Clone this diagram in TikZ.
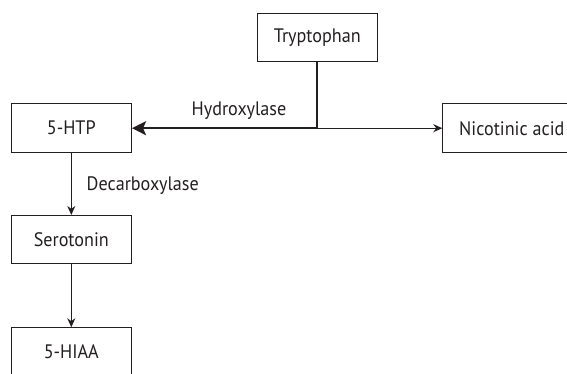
\documentclass[tikz,border=0pt]{standalone}
\usepackage{fontspec}
\setmainfont[FakeStretch=0.93]{PT Sans}
\usetikzlibrary{arrows.meta}
\definecolor{ink}{HTML}{231F20}
\begin{document}
\begin{tikzpicture}[x=1pt,y=1pt,
  box/.style={draw=ink,line width=1pt,minimum width=119.5pt,minimum height=48.5pt,inner sep=0pt,font=\fontsize{19.5}{23}\selectfont,text=ink},
  lbl/.style={font=\fontsize{19.5}{23}\selectfont,text=ink,inner sep=0pt},
  thin/.style={draw=ink,line width=1pt,-{Stealth[length=9pt,width=8pt]}},
  thick/.style={draw=ink,line width=2.2pt}]
\useasboundingbox (0,0) rectangle (567,-373);
\node[box] (tryp) at (317.3,-37.5) {Tryptophan};
\node[box] (htp) at (71.3,-128.2) {5-HTP};
\node[box,minimum width=138pt,anchor=west] (nic) at (442.3,-128.2) {Nicotinic acid};
\node[box] (ser) at (71.3,-239.7) {Serotonin};
\node[box] (hiaa) at (71.3,-352) {5-HIAA};
\coordinate (j) at (tryp.south |- htp.east);
\draw[thick] (tryp.south) -- (j);
\draw[thick,-{Stealth[length=14pt,width=14pt,inset=3pt]},shorten >=0.5pt] (j) -- (htp.east);
\draw[thin] (j) -- (nic.west);
\draw[thin] (htp.south) -- (ser.north);
\draw[thin] (ser.south) -- (hiaa.north);
\node[lbl,anchor=base east] (hyd) at (286.5,-115) {Hydroxylase};
\node[lbl,anchor=base west] (dec) at (86.5,-190) {Decarboxylase};
\end{tikzpicture}
\end{document}
